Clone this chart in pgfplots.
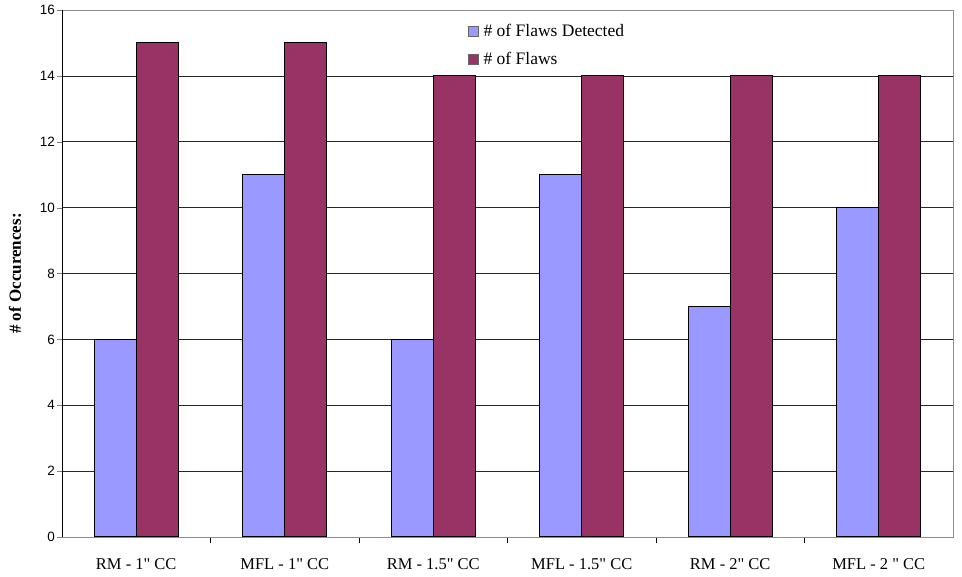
\documentclass[border=0pt]{standalone}
\usepackage{fontspec}
\setmainfont{Liberation Serif}[Ligatures=TeXOff]
\newfontfamily\arial{Liberation Sans}
\usepackage{pgfplots}
\pgfplotsset{compat=1.18}
\definecolor{cblue}{HTML}{9999FF}
\definecolor{cmaroon}{HTML}{993366}
\begin{document}
\begin{tikzpicture}
\begin{axis}[
  scale only axis,
  width=891pt, height=527pt,
  ybar=0pt, bar width=42pt,
  xmin=-0.5, xmax=5.5, ymin=0, ymax=16,
  xtick={0,1,2,3,4,5},
  xticklabels={{RM - 1" CC},{MFL - 1" CC},{RM - 1.5" CC},{MFL - 1.5" CC},{RM - 2" CC},{MFL - 2 " CC}},
  minor xtick={0.5,1.5,2.5,3.5,4.5},
  major x tick style={draw=none},
  minor x tick style={black},
  minor tick length=6pt,
  ytick={0,2,...,16},
  major tick length=5pt,
  tick align=outside,
  ytick pos=left, xtick pos=bottom,
  ymajorgrids,
  major grid style={black!85, line width=0.6pt},
  axis line style={black!45},
  /pgf/number format/assume math mode=true,
  yticklabel style={font=\arial\fontsize{13.5}{13.5}\selectfont, inner sep=2pt},
  xticklabel style={font=\fontsize{16.5}{16.5}\selectfont, anchor=north, yshift=-13pt},
  every axis y label/.style={at={(axis description cs:0,0.5)}, xshift=-47pt, rotate=90, anchor=center, font=\bfseries\fontsize{17}{17}\selectfont},
  ylabel={\# of Occurences:},
  legend style={draw=none, fill=none, at={(axis description cs:0.455,0.977)}, anchor=north west,
    font=\fontsize{17.5}{17.5}\selectfont, row sep=10pt, inner sep=0pt,
    nodes={inner sep=2pt}},
  legend cell align=left,
  legend image code/.code={\draw[#1, draw=black!60] (0pt,-5pt) rectangle (10pt,5pt);},
  legend style={/tikz/every odd column/.append style={column sep=3pt}},
]
\addplot[fill=cblue, draw=black, line width=1pt] coordinates {(0,6) (1,11) (2,6) (3,11) (4,7) (5,10)};
\addplot[fill=cmaroon, draw=black, line width=1pt] coordinates {(0,15) (1,15) (2,14) (3,14) (4,14) (5,14)};
\legend{\# of Flaws Detected, \# of Flaws}
\draw[black, line width=0.8pt] (rel axis cs:0,1) -- (rel axis cs:0,0) -- (rel axis cs:1,0);
\end{axis}
\path ([xshift=-62pt,yshift=-40pt]current axis.south west) rectangle ([xshift=9pt,yshift=10pt]current axis.north east);
\end{tikzpicture}
\end{document}
